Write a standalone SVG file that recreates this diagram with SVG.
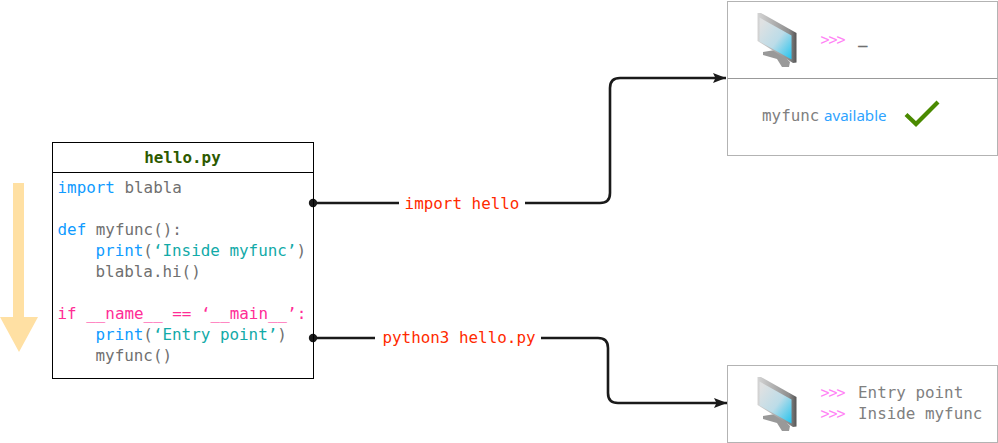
<svg xmlns="http://www.w3.org/2000/svg" width="998" height="443" viewBox="0 0 998 443">
<style>
text{font-family:"DejaVu Sans Mono","Liberation Mono",monospace;font-size:15.9px;fill:#707070}
.box{fill:#fff;stroke:#b3b3b3;stroke-width:1}
.k{fill:#0f9bff}.s{fill:#12aaa8}.p{fill:#ff85f5;letter-spacing:-1px;font-size:15px}
.o{fill:#808080}.l{fill:#ff2a00}
.c{fill:none;stroke:#1a1a1a;stroke-width:2.6;stroke-linejoin:round}
</style>
<defs>
<linearGradient id="scr" x1="0" y1="0" x2="1" y2="1"><stop offset="0.1" stop-color="#dfe1e2"/><stop offset="0.55" stop-color="#bcdce8"/><stop offset="1" stop-color="#22c3ee"/></linearGradient>
<linearGradient id="fr" x1="0" y1="0" x2="1" y2="0"><stop offset="0" stop-color="#d5d5d5"/><stop offset="0.8" stop-color="#8f8f8f"/><stop offset="1" stop-color="#555"/></linearGradient>
<marker id="a" markerWidth="14" markerHeight="10" refX="13" refY="5" orient="auto" markerUnits="userSpaceOnUse"><path d="M0 0L13 5L0 10L2.500 5Z" fill="#1a1a1a"/></marker>
<marker id="d" markerWidth="10" markerHeight="10" refX="5" refY="5" markerUnits="userSpaceOnUse"><circle cx="5" cy="5" r="4.200" fill="#1a1a1a"/></marker>
<g id="mon">
<path d="M763 52L775 50L783 55L790 62L789 67L782 67L777 59L763 55Z" fill="#999"/>
<path d="M757.500 13L761 13L796.500 33L796.500 62.500L793 63L757.500 41Z" fill="url(#fr)"/>
<path d="M759.500 17.500L791.500 35.500L791.500 59.500L759.500 41.500Z" fill="url(#scr)"/>
</g>
</defs>
<path d="M13 183H24V317H38L19 352L0 317H13Z" fill="#ffe0a3"/>
<g id="connectors">
<path class="c" marker-start="url(#d)" d="M313 203H399"/>
<path class="c" marker-end="url(#a)" d="M525 203H600Q610 203 610 193V88Q610 78 620 78H726"/>
<path class="c" marker-start="url(#d)" d="M313 338H375"/>
<path class="c" marker-end="url(#a)" d="M541 338H598Q608 338 608 348V393Q608 403 618 403H727"/>
</g>
<g id="hello">
<rect x="52.500" y="142.500" width="261" height="236" fill="none" stroke="#000"/>
<path d="M52.500 172.500H313.500" stroke="#000"/>
<text x="182.500" y="163" text-anchor="middle" font-weight="bold" style="fill:#2d5a00">hello.py</text>
<text x="57.500" y="193"><tspan class="k">import</tspan> blabla</text>
<text x="57.500" y="235"><tspan class="k">def</tspan> myfunc():</text>
<text x="95.500" y="256"><tspan class="k">print</tspan>(<tspan class="s">‘Inside myfunc’</tspan>)</text>
<text x="95.500" y="277">blabla.hi()</text>
<text x="57.500" y="319" style="fill:#ff2d96">if __name__ == ‘__main__’:</text>
<text x="95.500" y="340"><tspan class="k">print</tspan>(<tspan class="s">‘Entry point’</tspan>)</text>
<text x="95.500" y="361">myfunc()</text>
</g>
<g id="labels">
<text x="462" y="209" text-anchor="middle" class="l">import hello</text>
<text x="459" y="343" text-anchor="middle" class="l">python3 hello.py</text>
</g>
<g id="top">
<rect class="box" x="727.500" y="1.500" width="270" height="154"/>
<path d="M727.500 78.500H997.500" stroke="#999"/>
<use href="#mon"/>
<text x="820.500" y="45" class="p">&gt;&gt;&gt;</text>
<text x="858" y="44" font-weight="bold">_</text>
<text x="762" y="121" class="o">myfunc</text>
<text x="824" y="121" style="font-family:'Noto Sans','Open Sans',sans-serif;fill:#2ea3ff;font-size:15.100px">available</text>
<path d="M906 114.500L916 124L938 102" fill="none" stroke="#4a8a00" stroke-width="4.200"/>
</g>
<g id="bottom">
<rect class="box" x="727.500" y="365.500" width="270" height="77"/>
<use href="#mon" y="364"/>
<text x="820.500" y="398" class="p">&gt;&gt;&gt;</text>
<text x="858" y="398" class="o">Entry point</text>
<text x="820.500" y="419" class="p">&gt;&gt;&gt;</text>
<text x="858" y="419" class="o">Inside myfunc</text>
</g>
</svg>
